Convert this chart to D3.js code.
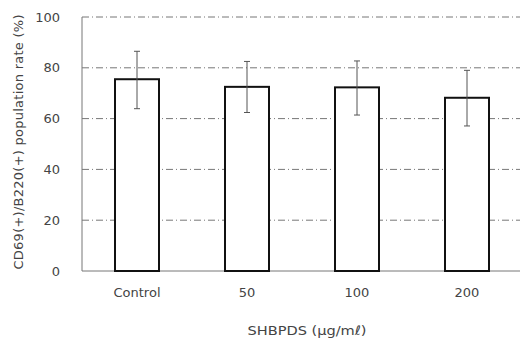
<!DOCTYPE html>
<html>
<head>
<meta charset="utf-8">
<script src="https://cdn.jsdelivr.net/npm/d3@7"></script>
<style>
	body { margin: 0; background: #fff; }
	text { font-family: "DejaVu Sans", sans-serif; fill: #444; }
</style>
</head>
<body>
<svg id="chart" width="520" height="340"></svg>
<script>
'use strict';

var categories = ["Control", "50", "100", "200"];
var means = [75.5, 72.5, 72.3, 68.2];
var errUpper = [86.5, 82.5, 82.7, 79.0];
var errLower = [63.9, 62.4, 61.4, 57.1];
var yTicks = [0, 20, 40, 60, 80, 100];

var margin = { top: 17, right: -2, bottom: 69, left: 82 };
var W = 520, H = 340;

var svg = d3.select("#chart");

var x = d3.scaleBand()
	.domain(categories)
	.range([margin.left, W - margin.right])
	.paddingInner(0.6)
	.paddingOuter(0.3);

var y = d3.scaleLinear()
	.domain([0, 100])
	.range([H - margin.bottom, margin.top]);

// dash-dot grid
svg.selectAll(".grid")
	.data(yTicks.filter(function (d) { return d > 0; }))
	.enter().append("line")
	.attr("x1", margin.left)
	.attr("x2", W)
	.attr("y1", function (d) { return y(d); })
	.attr("y2", function (d) { return y(d); })
	.attr("stroke", "#777")
	.attr("stroke-width", 1)
	.attr("stroke-dasharray", "7,3,1,3");

// axis lines
svg.append("line")
	.attr("x1", margin.left).attr("x2", margin.left)
	.attr("y1", y(100)).attr("y2", y(0))
	.attr("stroke", "#777");
svg.append("line")
	.attr("x1", margin.left).attr("x2", W)
	.attr("y1", y(0)).attr("y2", y(0))
	.attr("stroke", "#777");

var yAxis = svg.append("g")
	.attr("transform", "translate(" + margin.left + ",0)")
	.call(d3.axisLeft(y).tickValues(yTicks).tickSize(0).tickPadding(22));
yAxis.select(".domain").remove();
yAxis.selectAll("text")
	.style("font-family", "DejaVu Sans, sans-serif")
	.style("font-size", "13px")
	.attr("fill", "#444");

// bars
svg.selectAll(".bar")
	.data(categories)
	.enter().append("rect")
	.attr("x", function (d) { return x(d); })
	.attr("y", function (d, i) { return y(means[i]); })
	.attr("width", x.bandwidth())
	.attr("height", function (d, i) { return y(0) - y(means[i]); })
	.attr("fill", "#fff")
	.attr("stroke", "#111")
	.attr("stroke-width", 2);

// error bars
var err = svg.selectAll(".err")
	.data(categories)
	.enter().append("g")
	.attr("stroke", "#555")
	.attr("stroke-width", 1);

function cx(d) { return x(d) + x.bandwidth() / 2; }

err.append("line")
	.attr("x1", cx).attr("x2", cx)
	.attr("y1", function (d, i) { return y(errUpper[i]); })
	.attr("y2", function (d, i) { return y(errLower[i]); });

err.append("line")
	.attr("x1", function (d) { return cx(d) - 3; })
	.attr("x2", function (d) { return cx(d) + 3; })
	.attr("y1", function (d, i) { return y(errUpper[i]); })
	.attr("y2", function (d, i) { return y(errUpper[i]); });

err.append("line")
	.attr("x1", function (d) { return cx(d) - 3; })
	.attr("x2", function (d) { return cx(d) + 3; })
	.attr("y1", function (d, i) { return y(errLower[i]); })
	.attr("y2", function (d, i) { return y(errLower[i]); });

// category labels
svg.selectAll(".cat")
	.data(categories)
	.enter().append("text")
	.attr("x", cx)
	.attr("y", 297)
	.attr("text-anchor", "middle")
	.style("font-size", "13px")
	.text(function (d) { return d; });

svg.append("text")
	.attr("x", 307)
	.attr("y", 335)
	.attr("text-anchor", "middle")
	.attr("textLength", 119)
	.attr("lengthAdjust", "spacingAndGlyphs")
	.style("font-size", "13px")
	.text("SHBPDS  (\u03bcg/m\u2113)");

svg.append("text")
	.attr("transform", "translate(23,142) rotate(-90)")
	.attr("text-anchor", "middle")
	.attr("textLength", 255)
	.attr("lengthAdjust", "spacing")
	.style("font-size", "13px")
	.text("CD69(+)/B220(+)  population  rate  (%)");
</script>
</body>
</html>
